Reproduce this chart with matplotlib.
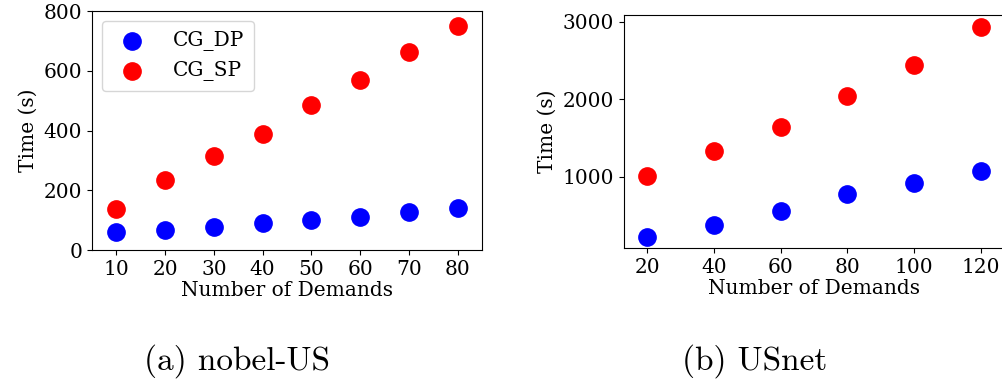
import matplotlib
matplotlib.use("Agg")
from matplotlib import pyplot as plt

# nobel-US
demands_a = [10, 20, 30, 40, 50, 60, 70, 80]
dp_a = [59, 68, 78, 91, 101, 112, 127, 141]
sp_a = [136, 235, 316, 387, 487, 568, 663, 751]

# USnet
demands_b = [20, 40, 60, 80, 100, 120]
dp_b = [226, 381, 553, 772, 914, 1073]
sp_b = [1004, 1331, 1645, 2045, 2445, 2931]

plt.rcParams['font.family'] = 'DejaVu Serif'

fig = plt.figure(figsize=(10.03, 3.80), dpi=100)
ax1 = fig.add_axes([92/1003, 1-250/380, 390/1003, 239/380])
ax2 = fig.add_axes([624/1003, 1-248/380, 380/1003, 233/380])

fs = 14.5
ms = 155
ax1.scatter(demands_a, dp_a, s=ms, color="blue", label="CG_DP", zorder=3)
ax1.scatter(demands_a, sp_a, s=ms, color="red", label="CG_SP", zorder=3)
ax1.set_xlim(5, 85)
ax1.set_ylim(0, 800)
ax1.set_xticks(demands_a)
ax1.set_yticks([0, 200, 400, 600, 800])
ax1.set_xlabel("Number of Demands", fontsize=fs, labelpad=2)
ax1.set_ylabel("Time (s)", fontsize=fs)
ax1.tick_params(labelsize=fs)
ax1.legend(loc="upper left", fontsize=fs, handletextpad=1.0, borderpad=0.5)

ax2.scatter(demands_b, dp_b, s=ms, color="blue", zorder=3)
ax2.scatter(demands_b, sp_b, s=ms, color="red", zorder=3)
ax2.set_xlim(13, 127)
ax2.set_ylim(80, 3088)
ax2.set_xticks(demands_b)
ax2.set_yticks([1000, 2000, 3000])
ax2.set_xlabel("Number of Demands", fontsize=fs, labelpad=2)
ax2.set_ylabel("Time (s)", fontsize=fs)
ax2.tick_params(labelsize=fs)

fig.text(237/1003, 1-361/380, "(a) nobel-US", family="cmr10", fontsize=24,
         ha="center", va="center")
fig.text(755/1003, 1-361/380, "(b) USnet", family="cmr10", fontsize=24,
         ha="center", va="center")

fig.savefig("out.png", dpi=100)
